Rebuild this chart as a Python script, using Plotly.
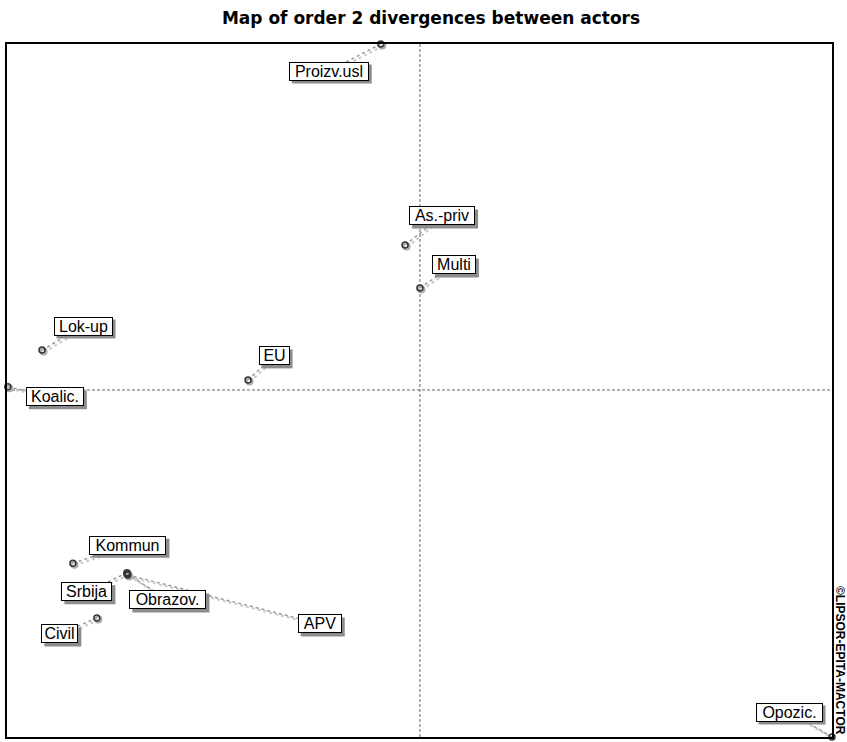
import plotly.graph_objects as go

# ---- data ----
actors = ["Proizv.usl", "As.-priv", "Multi", "Lok-up", "EU", "Koalic.",
          "Kommun", "Srbija", "Obrazov.", "APV", "Civil", "Opozic."]
x_vals = [-0.095, -0.036, 0.000, -0.917, -0.417, -1.000,
          -0.842, -0.711, -0.711, -0.709, -0.784, 1.000]
y_vals = [0.997, 0.418, 0.294, 0.115, 0.029, 0.009,
          -0.499, -0.527, -0.530, -0.533, -0.657, -1.000]

# label styling: offsets (px, dx right, dy down) and box widths (px)
label_dx = [-52, 37, 34, 41, 26, 47, 55, -40, 41, 192, -37, -43]
label_dy = [27, -29, -23, -24, -24, 10, -18, 19, 26, 49, 16, -25]
box_w = [80, 66, 44, 59, 31, 58, 77, 51, 77, 44, 37, 67]
BOX_H = 19

W, H = 847, 742
ML, MR, MT, MB = 7, 15, 44, 5
XR = [-1.002, 1.0]
YR = [-1.0, 0.997]
pw = W - ML - MR
ph = H - MT - MB
sx = (XR[1] - XR[0]) / pw
sy = (YR[1] - YR[0]) / ph

fig = go.Figure()

# centre lines
fig.add_shape(type="line", xref="x", yref="paper", x0=0, x1=0, y0=0, y1=1,
              line=dict(color="#666666", width=1, dash="3px,2px"), layer="below")
fig.add_shape(type="line", xref="paper", yref="y", x0=0, x1=1, y0=0, y1=0,
              line=dict(color="#666666", width=1, dash="3px,2px"), layer="below")

FONT = "Liberation Sans"

for a, x, y, dx, dy, bw in zip(actors, x_vals, y_vals, label_dx, label_dy, box_w):
    lx = x + dx * sx
    ly = y - dy * sy
    # connector shadow + connector
    fig.add_trace(go.Scatter(x=[x + 2 * sx, lx + 2 * sx], y=[y - 2 * sy, ly - 2 * sy],
                             mode="lines", line=dict(color="#c8c8c8", width=2, dash="dot"),
                             hoverinfo="skip", showlegend=False, cliponaxis=False))
    fig.add_trace(go.Scatter(x=[x, lx], y=[y, ly], mode="lines",
                             line=dict(color="#999999", width=1.5, dash="dot"),
                             hoverinfo="skip", showlegend=False, cliponaxis=False))
    # drop shadow of label box
    fig.add_shape(type="rect", xref="x", yref="y",
                  xsizemode="pixel", ysizemode="pixel", xanchor=lx, yanchor=ly,
                  x0=-bw / 2 + 3, x1=bw / 2 + 3, y0=-BOX_H / 2 - 3, y1=BOX_H / 2 - 3,
                  fillcolor="#8c8c8c", line=dict(width=0), layer="above")
    fig.add_annotation(x=lx, y=ly, xref="x", yref="y", text=a, showarrow=False,
                       width=bw - 2, height=BOX_H - 2, align="center", valign="middle",
                       font=dict(family=FONT, size=16, color="black"),
                       bgcolor="white", bordercolor="black", borderwidth=1, borderpad=0)

# marker shadows and markers
fig.add_trace(go.Scatter(x=[v + 1.5 * sx for v in x_vals], y=[v - 1.5 * sy for v in y_vals],
                         mode="markers",
                         marker=dict(symbol="circle-open", size=6, color="#aaaaaa",
                                     line=dict(width=2, color="#aaaaaa")),
                         hoverinfo="skip", showlegend=False, cliponaxis=False))
fig.add_trace(go.Scatter(x=x_vals, y=y_vals, mode="markers", text=actors,
                         marker=dict(symbol="circle-open", size=6, color="#333333",
                                     line=dict(width=1.5, color="#333333")),
                         hoverinfo="text", showlegend=False, cliponaxis=False))

fig.add_annotation(xref="paper", yref="paper", x=(840 - ML) / pw, y=(H - MB - 660) / ph,
                   xanchor="center", yanchor="middle",
                   text="<b>©LIPSOR-EPITA-MACTOR</b>", showarrow=False, textangle=90,
                   font=dict(family=FONT, size=12, color="black"))

fig.update_layout(
    width=W, height=H,
    margin=dict(l=ML, r=MR, t=MT, b=MB),
    paper_bgcolor="white", plot_bgcolor="white",
    title=dict(text="<b>Map of order 2 divergences between actors</b>",
               x=431 / W, xanchor="center", y=1 - 18 / H, yanchor="middle",
               font=dict(family="DejaVu Sans", size=17, color="black")),
    xaxis=dict(range=XR, showgrid=False, zeroline=False, showticklabels=False,
               ticks="", showline=True, mirror=True, linecolor="black", linewidth=2,
               fixedrange=True),
    yaxis=dict(range=YR, showgrid=False, zeroline=False, showticklabels=False,
               ticks="", showline=True, mirror=True, linecolor="black", linewidth=2,
               fixedrange=True),
)

fig.write_html("out.html", config={"displayModeBar": False},
               post_script="document.body.style.margin='0';document.body.style.overflow='hidden';")
